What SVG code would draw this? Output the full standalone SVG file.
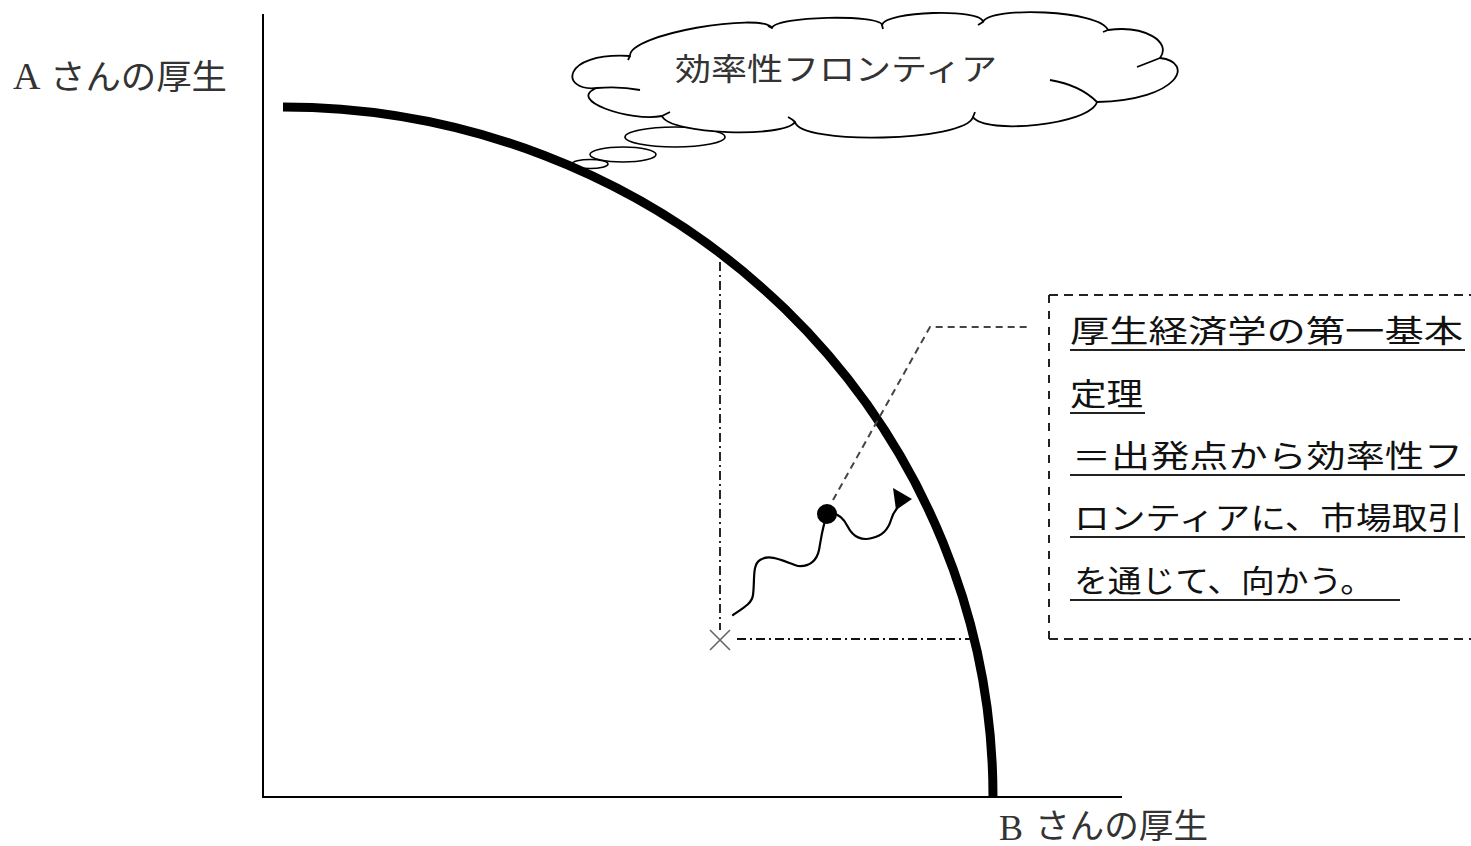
<svg xmlns="http://www.w3.org/2000/svg" width="1471" height="846" viewBox="0 0 1471 846">
<style>
.jp{font-family:'Noto Sans CJK JP','Noto Sans CJK SC',sans-serif;}
.lat{font-family:'Liberation Serif','Noto Sans CJK JP',serif;}
.lbl{fill:#333;font-size:34px;}
.box{fill:#111;font-size:31px;}
.ul{stroke:#222;stroke-width:2;fill:none;}
.ln{fill:none;stroke:#000;}
.dd{fill:none;stroke:#111;stroke-width:1.8;stroke-dasharray:9 4 2 4;}
</style>
<rect width="1471" height="846" fill="#fff"/>
<g id="axes">
<line class="ln" x1="263" y1="14" x2="263" y2="798" stroke-width="2"/>
<line class="ln" x1="262" y1="797" x2="1122" y2="797" stroke-width="2"/>
</g>
<g id="label-a">
<text x="13" y="89" class="lat" font-size="38" fill="#333">A</text>
<text x="50" y="89" class="jp lbl" textLength="177" lengthAdjust="spacingAndGlyphs">さんの厚生</text>
</g>
<g id="label-b">
<text x="999" y="840" class="lat" font-size="36" fill="#333">B</text>
<text x="1035" y="838" class="jp lbl" textLength="173" lengthAdjust="spacingAndGlyphs">さんの厚生</text>
</g>
<g id="cloud">
<ellipse cx="590" cy="164" rx="18" ry="4.5" fill="#fff" stroke="#000" stroke-width="1.6"/>
<ellipse cx="623" cy="154.5" rx="33" ry="7.5" fill="#fff" stroke="#000" stroke-width="1.6"/>
<ellipse cx="675" cy="137" rx="50" ry="10" fill="#fff" stroke="#000" stroke-width="1.6"/>
<path fill="#fff" stroke="#000" stroke-width="1.8" stroke-linejoin="round" d="M597,88 C560,92 560,52 630,56 C628,34 762,12 772,28 C775,16 880,14 882,25 C885,11 982,8 983,22 C990,6 1100,10 1108,30 C1145,25 1172,42 1160,58 C1195,62 1180,100 1097,102 C1090,125 985,135 973,117 C965,142 800,145 795,122 C785,138 670,135 662,116 C630,122 565,100 597,88 Z"/>
<path fill="none" stroke="#000" stroke-width="1.8" d="M597,88 Q620,86 640,90 M662,116 L670,112 M795,122 Q792,119 788,117 M973,117 L975,112 M1097,102 Q1080,85 1050,80 M1160,58 Q1150,62 1137,67 M1108,30 L1103,32 M983,22 L978,25 M882,25 L883,29 M772,28 L768,26 M630,56 L628,60"/>
<text x="675" y="80" class="jp" font-size="31" fill="#333" textLength="322" lengthAdjust="spacingAndGlyphs">効率性フロンティア</text>
</g>
<g id="frontier">
<path class="ln" d="M283,107 A710,690 0 0 1 993,797" stroke-width="9"/>
</g>
<g id="start-point">
<line class="dd" x1="720" y1="262" x2="720" y2="630"/>
<line class="dd" x1="737" y1="639" x2="970" y2="639"/>
<path d="M710,630 L730,650 M730,630 L710,650" stroke="#666" stroke-width="1.6" fill="none"/>
</g>
<g id="path-point">
<circle cx="827" cy="514" r="10" fill="#000"/>
</g>
<g id="note">
<path d="M1049,295 L1471,295 M1049,639 L1471,639" fill="none" stroke="#222" stroke-width="2" stroke-dasharray="9 6"/>
<line x1="1049" y1="295" x2="1049" y2="639" stroke="#222" stroke-width="2" stroke-dasharray="8 8"/>
<text x="1070" y="342" class="jp box" textLength="393" lengthAdjust="spacingAndGlyphs">厚生経済学の第一基本</text>
<text x="1070" y="405" class="jp box" textLength="73" lengthAdjust="spacingAndGlyphs">定理</text>
<text x="1072" y="467" class="jp box" textLength="391" lengthAdjust="spacingAndGlyphs">＝出発点から効率性フ</text>
<text x="1074" y="529" class="jp box" textLength="389" lengthAdjust="spacingAndGlyphs">ロンティアに、市場取引</text>
<text x="1074" y="592" class="jp box" textLength="300" lengthAdjust="spacingAndGlyphs">を通じて、向かう。</text>
<path class="ul" d="M1070,350 H1465 M1070,413 H1145 M1070,475 H1465 M1070,537 H1465 M1070,600 H1400"/>
</g>
<g id="connectors">
<path fill="none" stroke="#000" stroke-width="2.2" stroke-linecap="round" d="M733,615 C745,607 752,603 753,595 C755,580 752,565 760,560 C770,553 785,562 798,566 C810,567 817,560 819,550 C821,540 822,528 827,515"/>
<path fill="none" stroke="#000" stroke-width="2.2" stroke-linecap="round" d="M827,515 C835,512 842,515 848,527 C853,537 862,541 872,538 C882,536 888,530 891,520 C893,513 897,507 903,502"/>
<polygon points="893,488 912,499 896,510" fill="#000"/>
<path d="M833,500 L930,327 L1030,327" fill="none" stroke="#444" stroke-width="2" stroke-dasharray="7 5"/>
</g>
</svg>
